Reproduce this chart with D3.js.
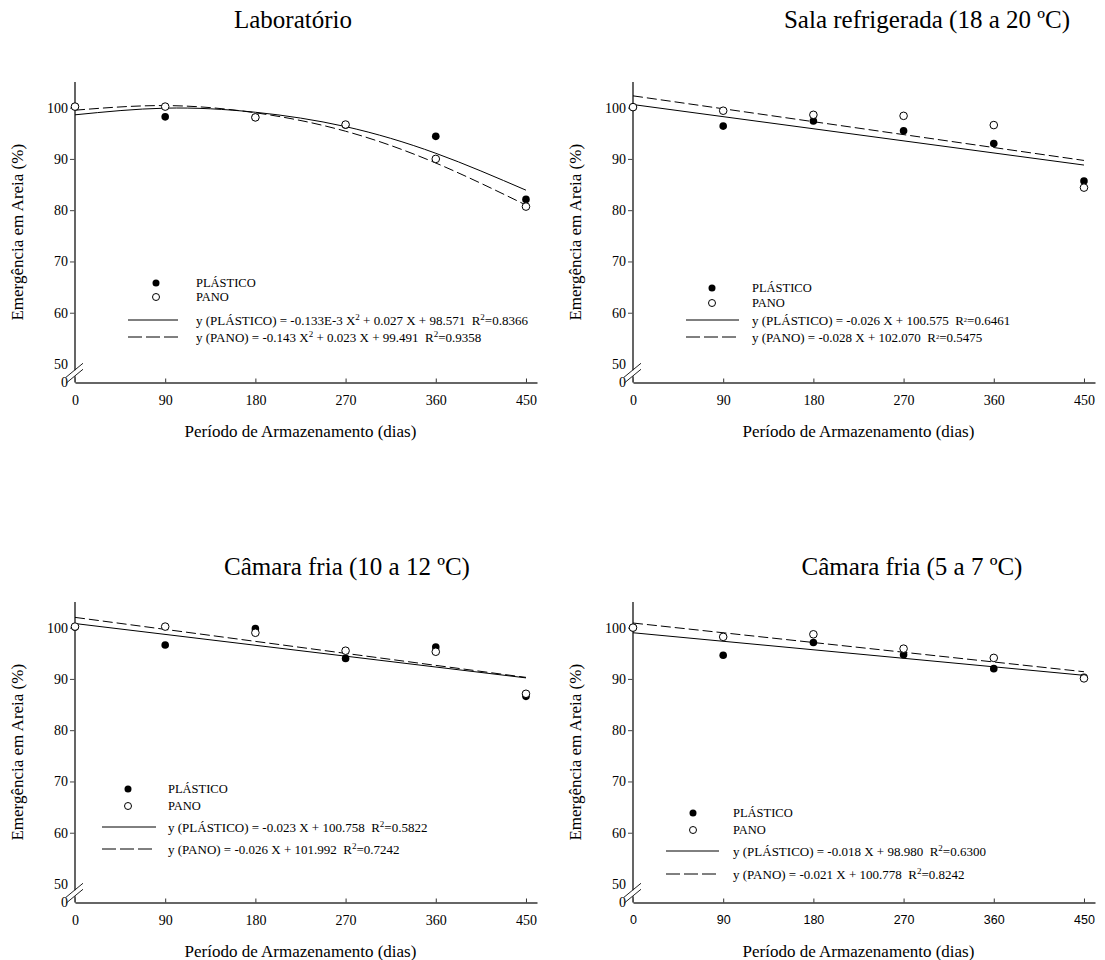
<!DOCTYPE html>
<html>
<head>
<meta charset="utf-8">
<script src="https://cdn.jsdelivr.net/npm/d3@7"></script>
<style>
  body { margin: 0; background: #fff; }
  svg { display: block; }
  text { font-family: "Liberation Serif", "Times New Roman", serif; fill: #000; white-space: pre; }
</style>
</head>
<body>
<svg id="grafico" width="1105" height="960"></svg>
<script>
// dados
var dias = [0, 90, 180, 270, 360, 450];
var diasAjuste = [0, 450];
var ticksY = [0, 50, 60, 70, 80, 90, 100];

var titulos = ["Laboratório", "Sala refrigerada (18 a 20 ºC)", "Câmara fria (10 a 12 ºC)", "Câmara fria (5 a 7 ºC)"];
var tituloX = "Período de Armazenamento (dias)";
var tituloY = "Emergência em Areia (%)";
var series = ["PLÁSTICO", "PANO"];

// Laboratorio
var plasticoLab = [100.2, 98.2, 98.1, 96.6, 94.4, 82.1];
var panoLab = [100.2, 100.2, 98.1, 96.7, 90.0, 80.7];
var ajustePlasticoLab = [98.6, 99.9, 99.1, 96.3, 91.1, 83.9];
var ajustePanoLab = [99.5, 100.4, 99.0, 95.4, 89.2, 81.0];

// Sala refrigerada
var plasticoSala = [100.1, 96.4, 97.4, 95.5, 93.0, 85.7];
var panoSala = [100.1, 99.4, 98.6, 98.4, 96.6, 84.4];
var ajustePlasticoSala = [100.6, 88.8];
var ajustePanoSala = [102.3, 89.7];

// Camara fria 10 a 12
var plasticoC10 = [100.1, 96.6, 99.8, 94.0, 96.2, 86.6];
var panoC10 = [100.2, 100.2, 99.0, 95.5, 95.3, 87.1];
var ajustePlasticoC10 = [100.8, 90.2];
var ajustePanoC10 = [102.0, 90.3];

// Camara fria 5 a 7
var plasticoC5 = [100.0, 94.6, 97.1, 94.7, 92.0, 90.3];
var panoC5 = [100.0, 98.2, 98.7, 95.9, 94.1, 90.1];
var ajustePlasticoC5 = [99.0, 90.7];
var ajustePanoC5 = [100.9, 91.4];

// equacoes (partes impares = expoente)
var eqPlastico = [
  ["y (PLÁSTICO) = -0.133E-3 X", "2", " + 0.027 X + 98.571  R", "2", "=0.8366"],
  ["y (PLÁSTICO) = -0.026 X + 100.575  R", "2", "=0.6461"],
  ["y (PLÁSTICO) = -0.023 X + 100.758  R", "2", "=0.5822"],
  ["y (PLÁSTICO) = -0.018 X + 98.980  R", "2", "=0.6300"]
];
var eqPano = [
  ["y (PANO) = -0.143 X", "2", " + 0.023 X + 99.491  R", "2", "=0.9358"],
  ["y (PANO) = -0.028 X + 102.070  R", "2", "=0.5475"],
  ["y (PANO) = -0.026 X + 101.992  R", "2", "=0.7242"],
  ["y (PANO) = -0.021 X + 100.778  R", "2", "=0.8242"]
];

var plasticos = [plasticoLab, plasticoSala, plasticoC10, plasticoC5];
var panos = [panoLab, panoSala, panoC10, panoC5];
var ajustesPlastico = [ajustePlasticoLab, ajustePlasticoSala, ajustePlasticoC10, ajustePlasticoC5];
var ajustesPano = [ajustePanoLab, ajustePanoSala, ajustePanoC10, ajustePanoC5];
var xAjuste = [dias, diasAjuste, diasAjuste, diasAjuste];

// posicoes de cada painel
var layout = [
  {x0: 75,  base: 382.5, tx: 293, ty: 28,  leg: {sx: 156, tx: 196, l1: 128, l2: 178, r: [283, 297, 320, 337]}, supSize: 9, xTickFont: "serif"},
  {x0: 633, base: 382.5, tx: 927, ty: 28,  leg: {sx: 712, tx: 752, l1: 686, l2: 739, r: [288, 303, 320, 337]}, supSize: 6.5, xTickFont: "serif"},
  {x0: 75,  base: 902.5, tx: 347, ty: 575, leg: {sx: 128, tx: 168, l1: 102, l2: 156, r: [789, 806, 827, 849]}, supSize: 9, xTickFont: "serif"},
  {x0: 633, base: 902.5, tx: 912, ty: 575, leg: {sx: 693, tx: 733, l1: 666, l2: 719, r: [813, 830, 851, 874]}, supSize: 9, xTickFont: "sans"}
];

var serifa = "'Liberation Serif', 'Times New Roman', serif";
var semSerifa = "'Liberation Sans', Arial, sans-serif";

var svg = d3.select("#grafico");

function desenhar_painel(i) {
  var L = layout[i];
  var g = svg.append("g").attr("class", "painel");

  var x = d3.scaleLinear().domain([0, 461]).range([L.x0, L.x0 + 462]);
  var y = d3.scaleLinear().domain([0, 50, 105]).range([L.base, L.base - 18.5, L.base - 300.5]);

  // titulo
  g.append("text")
    .attr("x", L.tx).attr("y", L.ty)
    .attr("text-anchor", "middle")
    .style("font-size", "25px")
    .text(titulos[i]);

  // eixo x
  var eixoX = g.append("g")
    .attr("transform", "translate(0," + L.base + ")")
    .call(d3.axisBottom(x).tickValues(dias).tickSize(-4).tickSizeOuter(0).tickPadding(13));
  eixoX.select(".domain").attr("stroke", "#333").attr("stroke-width", 1.3);
  eixoX.selectAll(".tick line").attr("stroke", "#333");
  eixoX.selectAll(".tick text")
    .style("font-family", L.xTickFont == "sans" ? semSerifa : serifa)
    .style("font-size", L.xTickFont == "sans" ? "12.5px" : "14px");

  // eixo y
  var eixoY = g.append("g")
    .attr("transform", "translate(" + L.x0 + ",0)")
    .call(d3.axisLeft(y).tickValues(ticksY).tickSize(5).tickPadding(2));
  eixoY.select(".domain").remove();
  eixoY.selectAll(".tick line")
    .attr("stroke", "#444")
    .attr("display", function(d) { return d <= 50 ? "none" : null; });
  eixoY.selectAll(".tick text")
    .style("font-family", serifa)
    .style("font-size", "14px");

  // linha do eixo y com quebra
  var yq = (y(0) + y(50)) / 2;
  g.append("line")
    .attr("x1", L.x0).attr("x2", L.x0)
    .attr("y1", y(105)).attr("y2", yq - 3)
    .attr("stroke", "#555").attr("stroke-width", 1.8);
  g.append("line")
    .attr("x1", L.x0).attr("x2", L.x0)
    .attr("y1", yq + 3).attr("y2", y(0))
    .attr("stroke", "#555").attr("stroke-width", 1.8);
  [-3, 3].forEach(function(off) {
    g.append("line")
      .attr("x1", L.x0 - 9).attr("y1", yq + off + 7)
      .attr("x2", L.x0 + 8).attr("y2", yq + off - 7)
      .attr("stroke", "#222").attr("stroke-width", 1);
  });

  // titulos dos eixos
  g.append("text")
    .attr("x", (x(0) + x(450)) / 2).attr("y", L.base + 54)
    .attr("text-anchor", "middle")
    .style("font-size", "17px")
    .text(tituloX);
  g.append("text")
    .attr("transform", "translate(" + (L.x0 - 52) + "," + ((y(105) + y(0)) / 2) + ") rotate(-90)")
    .attr("text-anchor", "middle")
    .style("font-size", "17px")
    .text(tituloY);

  // linhas de ajuste
  var curva = i == 0 ? d3.curveNatural : d3.curveLinear;
  var linha = d3.line()
    .curve(curva)
    .x(function(d) { return x(d[0]); })
    .y(function(d) { return y(d[1]); });

  var xs = xAjuste[i];
  g.append("path")
    .datum(xs.map(function(d, k) { return [d, ajustesPlastico[i][k]]; }))
    .attr("d", linha)
    .attr("fill", "none").attr("stroke", "#000").attr("stroke-width", 1);
  g.append("path")
    .datum(xs.map(function(d, k) { return [d, ajustesPano[i][k]]; }))
    .attr("d", linha)
    .attr("fill", "none").attr("stroke", "#000").attr("stroke-width", 1)
    .attr("stroke-dasharray", "10,4");

  // pontos
  g.selectAll(".plastico")
    .data(plasticos[i])
    .enter().append("circle")
    .attr("class", "plastico")
    .attr("cx", function(d, k) { return x(dias[k]); })
    .attr("cy", function(d) { return y(d); })
    .attr("r", 3.8)
    .attr("fill", "#000");
  g.selectAll(".pano")
    .data(panos[i])
    .enter().append("circle")
    .attr("class", "pano")
    .attr("cx", function(d, k) { return x(dias[k]); })
    .attr("cy", function(d) { return y(d); })
    .attr("r", 3.8)
    .attr("fill", "#fff")
    .attr("stroke", "#000").attr("stroke-width", 1);

  // legenda
  var lg = L.leg;
  g.append("circle").attr("cx", lg.sx).attr("cy", lg.r[0]).attr("r", 3.5).attr("fill", "#000");
  g.append("circle").attr("cx", lg.sx).attr("cy", lg.r[1]).attr("r", 3.5)
    .attr("fill", "#fff").attr("stroke", "#000").attr("stroke-width", 1);
  g.append("text").attr("x", lg.tx).attr("y", lg.r[0]).attr("dy", "0.35em")
    .style("font-size", "12.5px").text(series[0]);
  g.append("text").attr("x", lg.tx).attr("y", lg.r[1]).attr("dy", "0.35em")
    .style("font-size", "12.5px").text(series[1]);

  g.append("line").attr("x1", lg.l1).attr("x2", lg.l2).attr("y1", lg.r[2]).attr("y2", lg.r[2])
    .attr("stroke", "#000").attr("stroke-width", 1);
  g.append("line").attr("x1", lg.l1).attr("x2", lg.l2).attr("y1", lg.r[3]).attr("y2", lg.r[3])
    .attr("stroke", "#000").attr("stroke-width", 1).attr("stroke-dasharray", "14,4");

  [eqPlastico[i], eqPano[i]].forEach(function(partes, j) {
    var t = g.append("text")
      .attr("x", lg.tx).attr("y", lg.r[2 + j]).attr("dy", "0.35em")
      .style("font-size", "13px");
    partes.forEach(function(p, k) {
      var sup = k % 2 == 1;
      t.append("tspan")
        .attr("baseline-shift", sup ? (L.supSize < 8 ? "45%" : "55%") : null)
        .style("font-size", sup ? L.supSize + "px" : null)
        .text(p);
    });
  });
}

for (var i = 0; i < 4; i++) {
  desenhar_painel(i);
}
</script>
</body>
</html>
